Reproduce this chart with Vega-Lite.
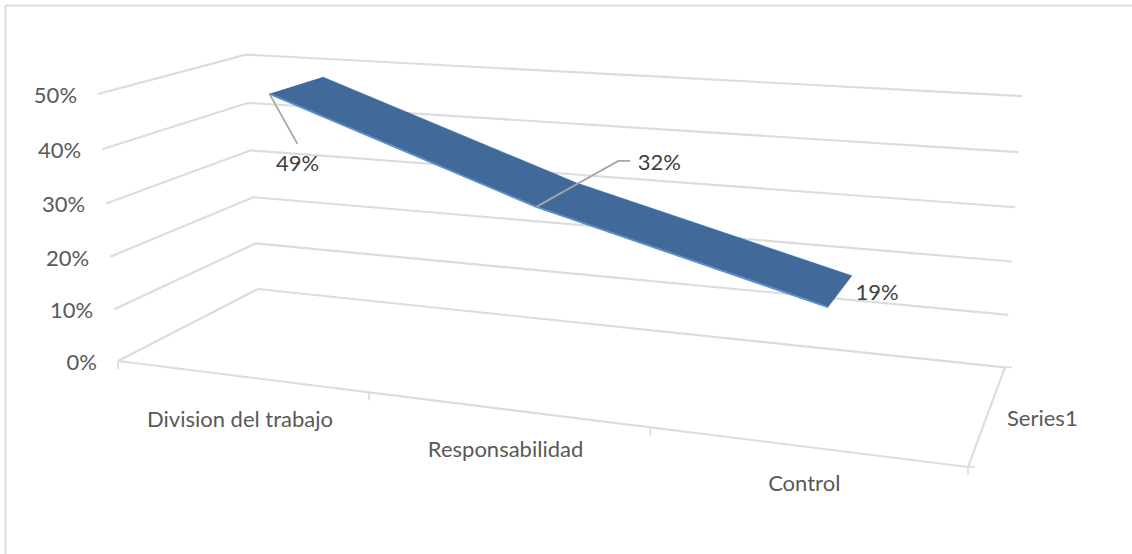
{
  "$schema": "https://vega.github.io/schema/vega-lite/v6.json",
  "autosize": {"type": "none"},
  "padding": {"left": 5, "top": 5, "right": 0, "bottom": 0},
  "width": 1127,
  "height": 549,
  "background": "white",
  "config": {"view": {"stroke": null}, "font": "Lato"},
  "datasets": {
    "series": [
      {"category": "Division del trabajo", "slot": 0, "value": 49},
      {"category": "Responsabilidad", "slot": 1, "value": 32},
      {"category": "Control", "slot": 2, "value": 19}
    ],
    "levels": [
      {"value": 0}, {"value": 10}, {"value": 20}, {"value": 30}, {"value": 40}, {"value": 50}
    ],
    "boundaries": [{"boundary": 0}, {"boundary": 1}, {"boundary": 2}, {"boundary": 3}],
    "depthAxis": [{"name": "Series1"}]
  },
  "encoding": {
    "x": {
      "field": "px", "type": "quantitative",
      "scale": {"domain": [5, 1132], "range": [0, 1127], "nice": false, "zero": false},
      "axis": {"orient": "top", "title": null, "labels": false, "ticks": false, "grid": false, "domain": true, "domainColor": "#dcdcdc", "domainWidth": 2}
    },
    "y": {
      "field": "py", "type": "quantitative",
      "scale": {"domain": [5, 554], "range": [0, 549], "nice": false, "zero": false},
      "axis": {"orient": "left", "title": null, "labels": false, "ticks": false, "grid": false, "domain": true, "domainColor": "#dcdcdc", "domainWidth": 2}
    }
  },
  "layer": [
    {
      "description": "Value gridlines: along the left wall, then along the back wall",
      "data": {"name": "levels"},
      "transform": [
        {"calculate": "[0,1,2]", "as": "leg"},
        {"flatten": ["leg"]},
        {"calculate": "datum.leg < 2 ? 0 : 1", "as": "u"},
        {"calculate": "datum.leg > 0 ? 1 : 0", "as": "d"},
        {"calculate": "datum.value / 50", "as": "w"},
        {"calculate": "1 - 0.162*datum.u + 0.146*datum.d - 0.04*datum.w", "as": "den"},
        {"calculate": "(118 + 693.2*datum.u + 177.7*datum.d - 23.9*datum.w) / datum.den", "as": "px"},
        {"calculate": "(361 + 30.3*datum.u - 29.8*datum.d - 270.8*datum.w) / datum.den", "as": "py"}
      ],
      "mark": {"type": "line", "color": "#dcdcdc", "strokeWidth": 2.1},
      "encoding": {"detail": {"field": "value"}, "order": {"field": "leg"}}
    },
    {
      "description": "Floor: front edge and right edge",
      "data": {"values": [{"leg": 0}, {"leg": 1}, {"leg": 2}]},
      "transform": [
        {"calculate": "datum.leg == 0 ? 0 : 1", "as": "u"},
        {"calculate": "datum.leg == 2 ? 1 : 0", "as": "d"},
        {"calculate": "0", "as": "w"},
        {"calculate": "1 - 0.162*datum.u + 0.146*datum.d - 0.04*datum.w", "as": "den"},
        {"calculate": "(118 + 693.2*datum.u + 177.7*datum.d - 23.9*datum.w) / datum.den", "as": "px"},
        {"calculate": "(361 + 30.3*datum.u - 29.8*datum.d - 270.8*datum.w) / datum.den", "as": "py"}
      ],
      "mark": {"type": "line", "color": "#dcdcdc", "strokeWidth": 2.1},
      "encoding": {"order": {"field": "leg"}}
    },
    {
      "description": "Category ticks hanging from the front edge",
      "data": {"name": "boundaries"},
      "transform": [
        {"calculate": "datum.boundary / 3", "as": "u"},
        {"calculate": "1 - 0.162*datum.u", "as": "den"},
        {"calculate": "(118 + 693.2*datum.u) / datum.den", "as": "px"},
        {"calculate": "(361 + 30.3*datum.u) / datum.den", "as": "py"},
        {"calculate": "datum.py + 8", "as": "tickEnd"}
      ],
      "mark": {"type": "rule", "color": "#dcdcdc", "strokeWidth": 1.8},
      "encoding": {"y2": {"field": "tickEnd"}}
    },
    {
      "description": "Depth-axis ticks at both ends of the right edge",
      "data": {"values": [{"d": 0}, {"d": 1}]},
      "transform": [
        {"calculate": "0.838 + 0.146*datum.d", "as": "den"},
        {"calculate": "(811.2 + 177.7*datum.d) / datum.den", "as": "px"},
        {"calculate": "(391.3 - 29.8*datum.d) / datum.den", "as": "py"},
        {"calculate": "datum.px + 7", "as": "tickEnd"}
      ],
      "mark": {"type": "rule", "color": "#dcdcdc", "strokeWidth": 1.8},
      "encoding": {"x2": {"field": "tickEnd"}}
    },
    {
      "description": "Top face of the ribbon, traced along the front edge and back along the rear edge",
      "data": {"name": "series"},
      "transform": [
        {"calculate": "[0.3, 0.7]", "as": "d"},
        {"flatten": ["d"]},
        {"calculate": "(datum.slot + 0.5) / 3", "as": "u"},
        {"calculate": "datum.value / 50", "as": "w"},
        {"calculate": "datum.d < 0.5 ? datum.slot : 5 - datum.slot", "as": "corner"},
        {"calculate": "1 - 0.162*datum.u + 0.146*datum.d - 0.04*datum.w", "as": "den"},
        {"calculate": "(118 + 693.2*datum.u + 177.7*datum.d - 23.9*datum.w) / datum.den", "as": "px"},
        {"calculate": "(361 + 30.3*datum.u - 29.8*datum.d - 270.8*datum.w) / datum.den", "as": "py"}
      ],
      "mark": {"type": "line", "color": "#41699a", "fill": "#41699a", "strokeWidth": 0.5},
      "encoding": {"order": {"field": "corner"}}
    },
    {
      "description": "Lighter front lip of the ribbon",
      "data": {"name": "series"},
      "transform": [
        {"calculate": "(datum.slot + 0.5) / 3", "as": "u"},
        {"calculate": "0.3", "as": "d"},
        {"calculate": "datum.value / 50", "as": "w"},
        {"calculate": "1 - 0.162*datum.u + 0.146*datum.d - 0.04*datum.w", "as": "den"},
        {"calculate": "(118 + 693.2*datum.u + 177.7*datum.d - 23.9*datum.w) / datum.den", "as": "px"},
        {"calculate": "(361 + 30.3*datum.u - 29.8*datum.d - 270.8*datum.w) / datum.den", "as": "py"}
      ],
      "mark": {"type": "line", "color": "#5a8fd0", "strokeWidth": 2},
      "encoding": {"order": {"field": "slot"}}
    },
    {
      "description": "Leader lines from the ribbon to the 49% and 32% labels",
      "data": {"name": "series"},
      "transform": [
        {"filter": "datum.slot < 2"},
        {"calculate": "(datum.slot + 0.5) / 3", "as": "u"},
        {"calculate": "0.3", "as": "d"},
        {"calculate": "datum.value / 50", "as": "w"},
        {"calculate": "datum.slot == 0 ? [[0,0,0],[1,28,50]] : [[0,0,0],[1,82,-46],[2,94,-46]]", "as": "step"},
        {"flatten": ["step"]},
        {"calculate": "datum.step[0]", "as": "stepOrder"},
        {"calculate": "1 - 0.162*datum.u + 0.146*datum.d - 0.04*datum.w", "as": "den"},
        {"calculate": "(118 + 693.2*datum.u + 177.7*datum.d - 23.9*datum.w) / datum.den + datum.step[1]", "as": "px"},
        {"calculate": "(361 + 30.3*datum.u - 29.8*datum.d - 270.8*datum.w) / datum.den + datum.step[2]", "as": "py"}
      ],
      "mark": {"type": "line", "color": "#a6a6a6", "strokeWidth": 1.8},
      "encoding": {"detail": {"field": "slot"}, "order": {"field": "stepOrder"}}
    },
    {
      "description": "Data labels",
      "data": {"name": "series"},
      "transform": [
        {"calculate": "(datum.slot + 0.5) / 3", "as": "u"},
        {"calculate": "0.3", "as": "d"},
        {"calculate": "datum.value / 50", "as": "w"},
        {"calculate": "datum.value + '%'", "as": "label"},
        {"calculate": "1 - 0.162*datum.u + 0.146*datum.d - 0.04*datum.w", "as": "den"},
        {"calculate": "(118 + 693.2*datum.u + 177.7*datum.d - 23.9*datum.w) / datum.den + [28, 123, 49][datum.slot]", "as": "px"},
        {"calculate": "(361 + 30.3*datum.u - 29.8*datum.d - 270.8*datum.w) / datum.den + [70, -44, -14][datum.slot]", "as": "py"}
      ],
      "mark": {"type": "text", "fontSize": 22, "color": "#404040", "baseline": "middle", "align": "center"},
      "encoding": {"text": {"field": "label"}}
    },
    {
      "description": "Value axis labels",
      "data": {"name": "levels"},
      "transform": [
        {"calculate": "datum.value / 50", "as": "w"},
        {"calculate": "datum.value + '%'", "as": "label"},
        {"calculate": "1 - 0.04*datum.w", "as": "den"},
        {"calculate": "(118 - 23.9*datum.w) / datum.den - 21", "as": "px"},
        {"calculate": "(361 - 270.8*datum.w) / datum.den + 2", "as": "py"}
      ],
      "mark": {"type": "text", "fontSize": 22, "color": "#595959", "baseline": "middle", "align": "right"},
      "encoding": {"text": {"field": "label"}}
    },
    {
      "description": "Category axis labels",
      "data": {"name": "series"},
      "transform": [
        {"calculate": "(datum.slot + 0.5) / 3", "as": "u"},
        {"calculate": "1 - 0.162*datum.u", "as": "den"},
        {"calculate": "(118 + 693.2*datum.u) / datum.den", "as": "px"},
        {"calculate": "(361 + 30.3*datum.u) / datum.den + [44, 41, 37][datum.slot]", "as": "py"}
      ],
      "mark": {"type": "text", "fontSize": 22, "color": "#595959", "baseline": "middle", "align": "center"},
      "encoding": {"text": {"field": "category"}}
    },
    {
      "description": "Depth axis label",
      "data": {"name": "depthAxis"},
      "transform": [
        {"calculate": "0.5", "as": "d"},
        {"calculate": "0.838 + 0.146*datum.d", "as": "den"},
        {"calculate": "(811.2 + 177.7*datum.d) / datum.den + 19", "as": "px"},
        {"calculate": "(391.3 - 29.8*datum.d) / datum.den + 6", "as": "py"}
      ],
      "mark": {"type": "text", "fontSize": 22, "color": "#595959", "baseline": "middle", "align": "left"},
      "encoding": {"text": {"field": "name"}}
    }
  ]
}
